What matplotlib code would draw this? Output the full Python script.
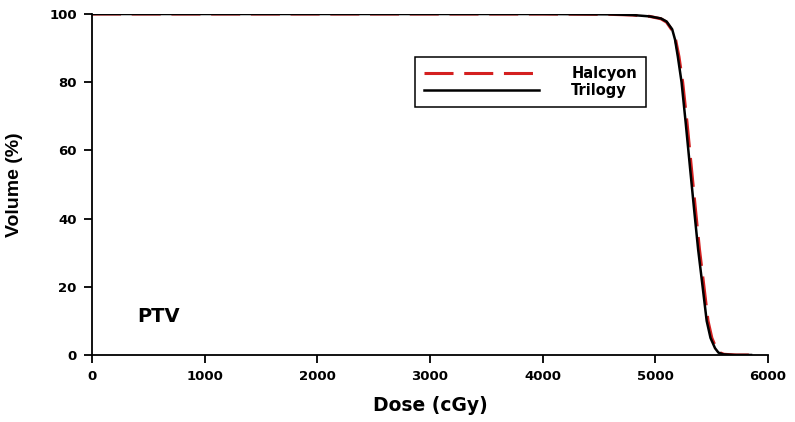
import matplotlib
matplotlib.use("Agg")
from matplotlib import pyplot as plt

# dose-volume histogram points
dose_trilogy = [0, 1000, 2000, 3000, 4000, 4600, 4800, 4950, 5050, 5100, 5150, 5175, 5200,
                5233, 5270, 5308, 5345, 5380, 5420, 5456, 5490, 5530, 5560, 5600, 5700, 5850]
vol_trilogy = [100, 100, 100, 100, 100, 99.9, 99.7, 99.3, 98.7, 97.8, 95.5, 92.5, 87.5,
               80, 68, 55, 42.5, 31, 20, 10, 5, 2, 0.7, 0.2, 0, 0]

dose_halcyon = [0, 1000, 2000, 3000, 4000, 4600, 4800, 4950, 5050, 5100, 5150, 5180, 5210,
                5243, 5282, 5320, 5357, 5392, 5432, 5468, 5502, 5540, 5570, 5610, 5720, 5880]
vol_halcyon = [100, 100, 100, 100, 100, 99.9, 99.7, 99.3, 98.6, 97.6, 95.2, 92.5, 87.5,
               80, 68, 55, 42.5, 31, 20, 10, 5, 2, 0.7, 0.2, 0, 0]

xticks = [0, 1000, 2000, 3000, 4000, 5000, 6000]
yticks = [0, 20, 40, 60, 80, 100]

plt.rcParams['font.family'] = ['DejaVu Sans']
plt.rcParams['font.weight'] = 'bold'

fig = plt.figure(figsize=(7.95, 4.22), dpi=100)
ax = fig.add_axes([0.1157, 0.1588, 0.8503, 0.808])

ax.plot(dose_halcyon, vol_halcyon, color='#d42020', linestyle=(0, (9.5, 3.5)), linewidth=2.2, label='Halcyon')
ax.plot(dose_trilogy, vol_trilogy, color='black', linewidth=1.8, label='Trilogy')

ax.set_xlim(0, 6000)
ax.set_ylim(0, 100)
ax.set_xticks(xticks)
ax.set_yticks(yticks)
ax.spines['top'].set_visible(False)
ax.spines['right'].set_visible(False)
ax.spines['left'].set_linewidth(1.3)
ax.spines['bottom'].set_linewidth(1.3)
ax.tick_params(direction='out', length=6, width=1.3, labelsize=9.5, pad=5)
for lab in ax.get_xticklabels() + ax.get_yticklabels():
    lab.set_fontweight('bold')

ax.set_xlabel('Dose (cGy)', fontsize=13.5, fontweight='bold', labelpad=9)
ax.set_ylabel('Volume (%)', fontsize=14, fontweight='bold', labelpad=19,
              family=['Liberation Sans', 'DejaVu Sans'])

ax.text(400, 11.4, 'PTV', fontsize=14, fontweight='bold', va='center')

leg = ax.legend(loc='upper left', bbox_to_anchor=(0.478, 0.874), borderaxespad=0,
                fontsize=10.5, handlelength=7.9, handletextpad=2.2, borderpad=0.6,
                labelspacing=0.15, fancybox=False, framealpha=1, edgecolor='black')
leg.get_frame().set_linewidth(1.1)
for t in leg.get_texts():
    t.set_fontweight('bold')

plt.savefig('out.png', dpi=100)
